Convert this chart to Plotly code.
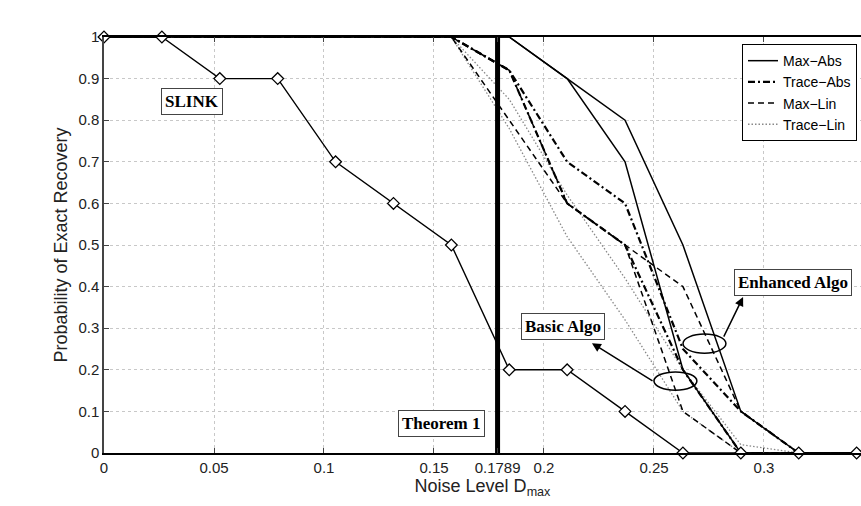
import plotly.graph_objects as go

# ---------------- data ----------------
noise = [k / 38 for k in range(14)]
slink = [1, 1, 0.9, 0.9, 0.7, 0.6, 0.5, 0.2, 0.2, 0.1, 0, 0, 0, 0]

basic_max_abs = [1, 1, 1, 1, 1, 1, 1, 1, 0.9, 0.7, 0.2, 0, 0, 0]
basic_trace_abs = [1, 1, 1, 1, 1, 1, 1, 0.92, 0.6, 0.5, 0.2, 0, 0, 0]
basic_max_lin = [1, 1, 1, 1, 1, 1, 1, 0.8, 0.6, 0.5, 0.1, 0, 0, 0]
basic_trace_lin = [1, 1, 1, 1, 1, 1, 1, 0.78, 0.52, 0.32, 0.1, 0, 0, 0]

enh_max_abs = [1, 1, 1, 1, 1, 1, 1, 1, 0.9, 0.8, 0.5, 0.1, 0, 0]
enh_trace_abs = [1, 1, 1, 1, 1, 1, 1, 0.92, 0.7, 0.6, 0.25, 0.1, 0, 0]
enh_max_lin = [1, 1, 1, 1, 1, 1, 1, 0.92, 0.6, 0.5, 0.4, 0.1, 0, 0]
enh_trace_lin = [1, 1, 1, 1, 1, 1, 1, 0.85, 0.62, 0.42, 0.2, 0.02, 0, 0]

theorem_x = 0.1789
x_tickvals = [0, 0.05, 0.1, 0.15, 0.1789, 0.2, 0.25, 0.3]
x_ticktext = ["0", "0.05", "0.1", "0.15", "0.1789", "0.2", "0.25", "0.3"]
y_tickvals = [i / 10 for i in range(11)]
y_ticktext = ["0", "0.1", "0.2", "0.3", "0.4", "0.5", "0.6", "0.7", "0.8", "0.9", "1"]

legend_names = ["Max\u2212Abs", "Trace\u2212Abs", "Max\u2212Lin", "Trace\u2212Lin"]

styles = [
    dict(color="black", width=1.5, dash="solid"),
    dict(color="black", width=2.2, dash="7px,3px,2px,3px"),
    dict(color="black", width=1.5, dash="6px,4px"),
    dict(color="#888888", width=1.3, dash="1.5px,2px"),
]

fig = go.Figure()

basic = [basic_max_abs, basic_trace_abs, basic_max_lin, basic_trace_lin]
enh = [enh_max_abs, enh_trace_abs, enh_max_lin, enh_trace_lin]

for idx in [3, 2, 1, 0]:
    fig.add_trace(go.Scatter(x=noise, y=enh[idx], mode="lines", line=styles[idx],
                             showlegend=False, hoverinfo="skip"))
for idx in [3, 2, 1, 0]:
    fig.add_trace(go.Scatter(x=noise, y=basic[idx], mode="lines", line=styles[idx],
                             name=legend_names[idx], showlegend=True, legendrank=idx + 1,
                             hoverinfo="skip"))

# Theorem 1 vertical line
fig.add_trace(go.Scatter(x=[theorem_x, theorem_x], y=[0, 1], mode="lines",
                         line=dict(color="black", width=5), showlegend=False))

# SLINK
fig.add_trace(go.Scatter(x=noise, y=slink, mode="lines+markers",
                         line=dict(color="black", width=1.4),
                         marker=dict(symbol="diamond", size=9, color="white",
                                     line=dict(color="black", width=1.3)),
                         showlegend=False, cliponaxis=False))

box_font = dict(family="Liberation Serif", size=17, color="black")
ann = [
    (0.04, 0.844, "<b>SLINK</b>"),
    (0.1532, 0.07, "<b>Theorem 1</b>"),
    (0.2086, 0.303, "<b>Basic Algo</b>"),
    (0.3132, 0.411, "<b>Enhanced Algo</b>"),
]
for x, y, t in ann:
    fig.add_annotation(x=x, y=y, text=t, showarrow=False, font=box_font,
                       bgcolor="white", bordercolor="#444", borderwidth=1, borderpad=3)

# arrows
fig.add_annotation(x=0.2218, y=0.264, ax=0.25, ay=0.171, axref="x", ayref="y",
                   xref="x", yref="y", text="", showarrow=True, arrowhead=2,
                   arrowsize=1.2, arrowwidth=1.5, arrowcolor="black")
fig.add_annotation(x=0.2905, y=0.375, ax=0.2814, ay=0.276, axref="x", ayref="y",
                   xref="x", yref="y", text="", showarrow=True, arrowhead=2,
                   arrowsize=1.2, arrowwidth=1.5, arrowcolor="black")

# ellipses
fig.add_shape(type="circle", xref="x", yref="y", x0=0.25, x1=0.2695, y0=0.151, y1=0.195,
              line=dict(color="black", width=1.5))
fig.add_shape(type="circle", xref="x", yref="y", x0=0.2632, x1=0.2827, y0=0.240, y1=0.286,
              line=dict(color="black", width=1.5))

tick_font = dict(family="Liberation Sans", size=15, color="#222")
fig.update_layout(
    width=861, height=506,
    margin=dict(l=104, r=0, t=37, b=53, autoexpand=False),
    plot_bgcolor="white", paper_bgcolor="white",
    legend=dict(x=0.8428, y=0.983, xanchor="left", yanchor="top",
                bordercolor="black", borderwidth=1, bgcolor="white",
                font=dict(family="Liberation Sans", size=14, color="black"),
                tracegroupgap=0, traceorder="normal"),
    xaxis=dict(range=[0, 0.3441], tickvals=x_tickvals, ticktext=x_ticktext,
               showgrid=True, gridcolor="#c8c8c8", griddash="dot", gridwidth=1,
               zeroline=False, showline=True, linecolor="black", linewidth=2,
               mirror="ticks", ticks="inside", ticklen=5, tickcolor="#444",
               tickfont=tick_font,
               title=dict(text="Noise Level D<sub>max</sub>", standoff=0,
                          font=dict(family="Liberation Sans", size=18, color="#222"))),
    yaxis=dict(range=[0, 1], tickvals=y_tickvals, ticktext=y_ticktext,
               showgrid=True, gridcolor="#c8c8c8", griddash="dot", gridwidth=1,
               zeroline=False, showline=True, linecolor="#444", linewidth=1.5,
               ticks="inside", ticklen=5, tickcolor="#444",
               tickfont=tick_font,
               title=dict(text="Probability of Exact Recovery", standoff=6,
                          font=dict(family="Liberation Sans", size=18, color="#222"))),
)

fig.write_html("out.html")
